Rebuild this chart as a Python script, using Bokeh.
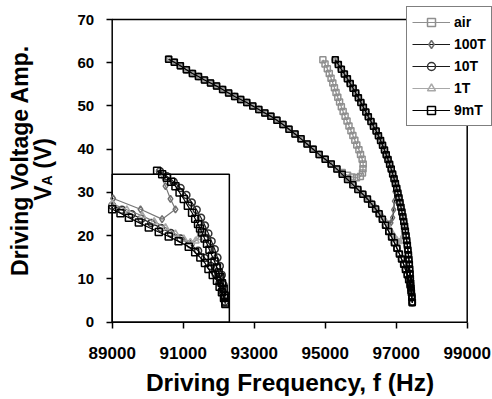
import math
from bokeh.plotting import figure
from bokeh.models import Range1d, FixedTicker, Legend, LegendItem, Label
from bokeh.embed import file_html
from bokeh.resources import INLINE

# ---------------- data ----------------
x_ticks = [89000, 91000, 93000, 95000, 97000, 99000]
y_ticks = [0, 10, 20, 30, 40, 50, 60, 70]
series_names = ["air", "100T", "10T", "1T", "9mT"]

# common lower branch (frequency Hz, voltage V)
lower_f = [90590, 90750, 90920, 91090, 91260, 91430, 91600, 91770, 91940, 92110,
           92280, 92450, 92620, 92790, 92960, 93130, 93300, 93470, 93640, 93810,
           93980, 94150, 94320, 94490, 94660, 94830, 95000, 95170, 95330, 95480,
           95630, 95780, 95920, 96060, 96190, 96310, 96420, 96520, 96610, 96700,
           96790, 96870, 96950, 97020, 97090, 97150, 97210, 97260, 97310, 97350,
           97390, 97420, 97440, 97455]
lower_v = [60.8, 60.1, 59.3, 58.4, 57.5, 56.8, 56.0, 55.3, 54.6, 53.8,
           53.0, 52.2, 51.5, 50.8, 50.0, 49.2, 48.4, 47.6, 46.7, 45.7,
           44.6, 43.5, 42.4, 41.2, 40.0, 38.8, 37.7, 36.6, 35.4, 34.2,
           33.0, 31.8, 30.7, 29.6, 28.5, 27.3, 26.2, 25.1, 23.8, 22.4,
           21.0, 19.7, 18.4, 17.1, 15.8, 14.6, 13.4, 12.2, 11.0, 9.8,
           8.6, 7.3, 6.0, 4.6]

# common steep (upper) branch, top to bottom
upper_f = [95285, 95370, 95455, 95540, 95625, 95705, 95785, 95860, 95935, 96005,
           96075, 96145, 96215, 96290, 96360, 96435, 96500, 96560, 96615, 96670,
           96720, 96770, 96815, 96860, 96900, 96940, 96978, 97015, 97048, 97078,
           97106, 97134, 97162, 97188, 97212, 97236, 97258, 97278, 97296, 97314,
           97330, 97345, 97358, 97370, 97380, 97390, 97399, 97408, 97418, 97428,
           97438, 97450]
upper_v = [60.7, 59.6, 58.5, 57.4, 56.3, 55.2, 54.1, 53.0, 51.9, 50.8,
           49.7, 48.6, 47.5, 46.4, 45.3, 44.2, 43.1, 42.0, 40.9, 39.8,
           38.7, 37.6, 36.5, 35.4, 34.3, 33.2, 32.1, 31.0, 29.9, 28.8,
           27.7, 26.6, 25.5, 24.4, 23.3, 22.2, 21.1, 20.0, 18.9, 17.8,
           16.7, 15.6, 14.5, 13.4, 12.3, 11.2, 10.1, 9.0, 7.9, 6.8,
           5.7, 4.5]

# air: jump region and its own upper branch
air_tail_f = [95480, 95630, 95760, 95880, 95990, 96050, 96065, 96070, 96040, 95995,
              95950, 95890, 95835, 95780, 95725, 95670, 95615, 95560, 95505, 95455,
              95405, 95355, 95305, 95260, 95215, 95165, 95115, 95060, 94995, 94935]
air_tail_v = [34.6, 34.0, 33.6, 33.4, 33.7, 34.5, 35.5, 36.6, 37.7, 38.8,
              39.9, 41.0, 42.1, 43.2, 44.3, 45.4, 46.5, 47.6, 48.7, 49.8,
              50.9, 52.0, 53.1, 54.2, 55.3, 56.4, 57.5, 58.6, 59.7, 60.7]

# 100T: small dip before jumping to the upper branch
tail100_f = [96310, 96420, 96520, 96610, 96700, 96780, 96850, 96900, 96930, 96950, 96965]
tail100_v = [27.6, 26.5, 25.4, 24.3, 23.3, 22.7, 23.0, 24.2, 26.0, 28.0, 30.2]

# 1T: dip before jumping to the upper branch
tail1_f = [96420, 96520, 96610, 96700, 96790, 96870, 96950, 97020, 97090, 97150, 97200, 97225]
tail1_v = [26.3, 25.3, 24.4, 23.2, 22.0, 20.9, 19.8, 19.0, 18.6, 18.9, 20.0, 21.4]

# inset (magnified jump region)
in9_lower_f = [96300, 96385, 96471, 96573, 96675, 96777, 96879, 96980, 97084, 97150,
               97203, 97250, 97286, 97330, 97373, 97400, 97424, 97445, 97459]
in9_lower_v = [24.9, 24.1, 23.2, 22.2, 21.2, 20.3, 19.4, 18.4, 17.3, 16.2,
               15.1, 14.0, 12.8, 11.6, 10.4, 9.2, 8.1, 6.9, 5.7]
in9_steep_f = [96760, 96812, 96862, 96905, 96948, 96990, 97033, 97075, 97118, 97150,
               97179, 97200, 97220, 97246, 97271, 97296, 97322, 97348, 97373, 97390,
               97408, 97425, 97442, 97452, 97459]
in9_steep_v = [32.7, 32.0, 31.3, 30.5, 29.6, 28.3, 27.0, 25.6, 24.2, 23.0,
               21.9, 21.0, 20.2, 19.0, 17.9, 16.7, 15.5, 14.3, 13.1, 12.1,
               11.1, 9.9, 8.8, 7.4, 6.0]
in10_lower_f = [96300, 96400, 96500, 96600, 96700, 96800, 96900, 97000, 97100, 97180,
                97250, 97310, 97360, 97400, 97430, 97455]
in10_lower_v = [25.6, 24.8, 23.9, 23.0, 22.1, 21.1, 20.1, 19.0, 17.8, 16.5,
                15.0, 13.4, 11.7, 10.0, 8.2, 6.2]
in10_steep_f = [96790, 96860, 96930, 97000, 97060, 97115, 97165, 97210, 97250, 97285,
                97318, 97350, 97378, 97402, 97422, 97440, 97455]
in10_steep_v = [32.6, 31.6, 30.5, 29.2, 27.8, 26.3, 24.8, 23.2, 21.6, 20.0,
                18.4, 16.8, 15.1, 13.4, 11.6, 9.6, 7.4]
in100_f = [96310, 96590, 96811, 96948, 96897, 96846, 96777]
in100_v = [27.1, 24.9, 22.9, 24.9, 27.0, 29.6, 32.7]
in1_f = [96300, 96450, 96607, 96730, 96846, 96948, 97033, 97101, 97155, 97189, 97206]
in1_v = [26.0, 24.8, 23.6, 22.4, 21.2, 19.9, 18.9, 18.2, 18.5, 19.2, 20.3]

# ---------------- assemble series ----------------
def lower_until(fmax):
    idx = [i for i, f in enumerate(lower_f) if f <= fmax]
    return [lower_f[i] for i in idx], [lower_v[i] for i in idx]

def upper_from(vmin):
    idx = [i for i, v in enumerate(upper_v) if v >= vmin][::-1]
    return [upper_f[i] for i in idx], [upper_v[i] for i in idx]

full_f = lower_f + upper_f[::-1]
full_v = lower_v + upper_v[::-1]

lf, lv = lower_until(95330)
air_f, air_v = lf + air_tail_f, lv + air_tail_v

lf, lv = lower_until(96190)
uf, uv = upper_from(32.0)
s100_f, s100_v = lf + tail100_f + uf, lv + tail100_v + uv

lf, lv = lower_until(96310)
uf, uv = upper_from(22.2)
s1_f, s1_v = lf + tail1_f + uf, lv + tail1_v + uv

# ---------------- layout (canvas pixels) ----------------
W, H = 492, 399
X0, X1, Y0, Y1 = 89000, 99000, 0, 70
PX_X0, PX_X1 = 111.7, 466.7     # canvas x of 89000 and 99000
PX_Y0, PX_Y1 = 321.7, 19.0      # canvas y (from top) of 0 and 70
kx = (X1 - X0) / (PX_X1 - PX_X0)
ky = (Y1 - Y0) / (PX_Y0 - PX_Y1)
XR = (X0 - PX_X0 * kx, X1 + (W - PX_X1) * kx)
YR = (Y0 - (H - PX_Y0) * ky, Y1 + PX_Y1 * ky)

p = figure(width=W, height=H, output_backend="svg", toolbar_location=None,
           x_range=Range1d(*XR), y_range=Range1d(*YR),
           min_border_left=0, min_border_right=0, min_border_top=0, min_border_bottom=0)
p.title.visible = False
p.grid.visible = False
p.background_fill_color = "white"
p.border_fill_color = "white"
p.outline_line_color = None

FONT = "Liberation Sans"
for ax in (p.xaxis[0], p.yaxis[0]):
    ax.axis_line_color = None
    ax.major_tick_line_width = 1.5
    ax.major_tick_line_color = "black"
    ax.major_tick_out = 6
    ax.major_tick_in = 0
    ax.minor_tick_out = 0
    ax.minor_tick_in = 0
    ax.major_label_text_font = FONT
    ax.major_label_text_font_style = "bold"
    ax.major_label_text_color = "black"
    ax.axis_label_text_font = FONT
    ax.axis_label_text_font_style = "bold"
    ax.axis_label_text_color = "black"

p.xaxis.fixed_location = Y0
p.yaxis.fixed_location = X0
p.xaxis.bounds = (X0, X1)
p.yaxis.bounds = (Y0, Y1)
p.xaxis.ticker = FixedTicker(ticks=x_ticks)
p.yaxis.ticker = FixedTicker(ticks=y_ticks)
p.xaxis.major_label_text_font_size = "17px"
p.yaxis.major_label_text_font_size = "15px"
p.xaxis.major_label_standoff = 19
p.yaxis.major_label_standoff = 12
p.xaxis.axis_label = "Driving Frequency, f (Hz)"
p.xaxis.axis_label_text_font_size = "24.5px"
p.xaxis.axis_label_standoff = 6

# plot box
p.quad(left=[X0], right=[X1], bottom=[Y0], top=[Y1],
       fill_color=None, line_color="black", line_width=1.5)

# y label (two lines, the second with a subscript): Driving Voltage Amp. / V_A (V)
lab_kw = dict(x=X0, x_units="data", y_units="data", angle=math.pi / 2,
              text_font=FONT, text_font_style="bold", text_color="black",
              text_baseline="alphabetic")
p.add_layout(Label(y=37.4, x_offset=-92, text="Driving Voltage Amp.", text_align="center",
                   text_font_size="23px", **lab_kw))
p.add_layout(Label(y=28.1, x_offset=-69, text="V", text_align="left", text_font_size="23px", **lab_kw))
p.add_layout(Label(y=31.6, x_offset=-65, text="A", text_align="left", text_font_size="14px", **lab_kw))
p.add_layout(Label(y=35.5, x_offset=-69, text="(V)", text_align="left", text_font_size="23px", **lab_kw))

# ---------------- main curves ----------------
styles = {
    "air":  dict(marker="square",   lc="#8f8f8f", mc="#8f8f8f"),
    "100T": dict(marker="diamond",  lc="#1a1a1a", mc="#6e6e6e"),
    "10T":  dict(marker="circle",   lc="#1a1a1a", mc="#333333"),
    "1T":   dict(marker="triangle", lc="#a8a8a8", mc="#a8a8a8"),
    "9mT":  dict(marker="square",   lc="#000000", mc="#000000"),
}
data = {
    "air": (air_f, air_v),
    "100T": (s100_f, s100_v),
    "10T": (full_f, full_v),
    "1T": (s1_f, s1_v),
    "9mT": (full_f, full_v),
}
draw_order = ["10T", "100T", "1T", "air", "9mT"]
rend = {}
for name in draw_order:
    st = styles[name]
    f, v = data[name]
    ln = p.line(f, v, line_color=st["lc"], line_width=1.2)
    sc = p.scatter(f, v, marker=st["marker"], size=6, fill_color=None,
                   line_color=st["mc"], line_width=1.5)
    rend[name] = [ln, sc]

# ---------------- inset ----------------
INSET_F_RIGHT, INSET_V_TOP = 92300, 34.2
IN_F0, IN_F1, IN_V0, IN_V1 = 96300, 97500, 2, 32
sx = (IN_F1 - IN_F0) / (INSET_F_RIGHT - X0)
sy = (IN_V1 - IN_V0) / (INSET_V_TOP - Y0)
p.extra_x_ranges = {"ix": Range1d(IN_F0 + (XR[0] - X0) * sx, IN_F0 + (XR[1] - X0) * sx)}
p.extra_y_ranges = {"iy": Range1d(IN_V0 + (YR[0] - Y0) * sy, IN_V0 + (YR[1] - Y0) * sy)}

p.quad(left=[X0], right=[INSET_F_RIGHT], bottom=[Y0], top=[INSET_V_TOP],
       fill_color=None, line_color="black", line_width=1.5)

inset_sets = [
    (in10_lower_f, in10_lower_v, "10T"),
    (in10_steep_f, in10_steep_v, "10T"),
    (in100_f, in100_v, "100T"),
    (in1_f, in1_v, "1T"),
    (in9_lower_f, in9_lower_v, "9mT"),
    (in9_steep_f, in9_steep_v, "9mT"),
]
for f, v, name in inset_sets:
    st = styles[name]
    lc = "#777777" if name in ("100T", "1T") else st["lc"]
    p.line(f, v, x_range_name="ix", y_range_name="iy", line_color=lc, line_width=1.2)
    p.scatter(f, v, x_range_name="ix", y_range_name="iy", marker=st["marker"], size=7,
              fill_color=None, line_color=st["mc"], line_width=1.5)

# ---------------- legend ----------------
legend = Legend(items=[LegendItem(label=n, renderers=rend[n]) for n in series_names],
                location=(406, 273), orientation="vertical",
                border_line_color="black", border_line_width=1.5,
                background_fill_color="white", background_fill_alpha=1.0,
                label_text_font=FONT, label_text_font_style="bold",
                label_text_font_size="14px", label_text_color="black",
                glyph_width=38, glyph_height=20, label_height=20,
                spacing=2, padding=5, margin=0, label_standoff=4)
p.add_layout(legend)

open("out.html", "w").write(file_html(p, INLINE))
